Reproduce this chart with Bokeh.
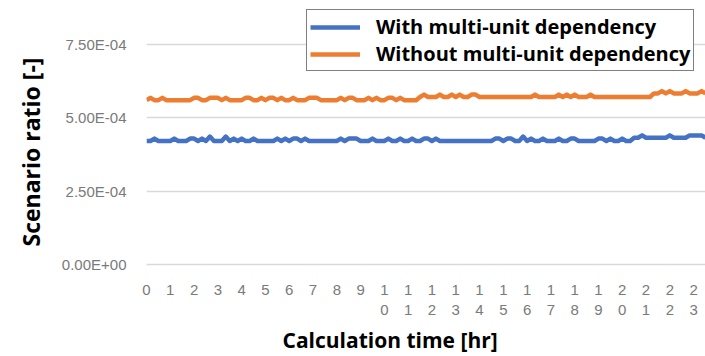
from bokeh.plotting import figure
from bokeh.models import (FixedTicker, CustomJSTickFormatter, Legend, LegendItem,
                          Title, Range1d)
from bokeh.embed import file_html
from bokeh.resources import INLINE

# ---------------- data ----------------
hour_ticks = [0, 1, 2, 3, 4, 5, 6, 7, 8, 9, 10, 11, 12, 13, 14, 15, 16, 17, 18, 19, 20, 21, 22, 23]
hour_labels = ["0", "1", "2", "3", "4", "5", "6", "7", "8", "9",
               "1\n0", "1\n1", "1\n2", "1\n3", "1\n4", "1\n5", "1\n6", "1\n7",
               "1\n8", "1\n9", "2\n0", "2\n1", "2\n2", "2\n3"]
ratio_ticks = [0.0, 2.5e-4, 5.0e-4, 7.5e-4]

sample_step_hr = 1 / 6  # one value every 10 minutes

with_dep = [
    4.21e-4, 4.21e-4, 4.29e-4, 4.21e-4, 4.21e-4, 4.21e-4, 4.21e-4, 4.29e-4, 4.21e-4, 4.21e-4, 4.21e-4, 4.29e-4,
    4.29e-4, 4.21e-4, 4.29e-4, 4.21e-4, 4.36e-4, 4.21e-4, 4.21e-4, 4.21e-4, 4.36e-4, 4.21e-4, 4.29e-4, 4.21e-4,
    4.29e-4, 4.21e-4, 4.21e-4, 4.29e-4, 4.21e-4, 4.21e-4, 4.21e-4, 4.21e-4, 4.21e-4, 4.29e-4, 4.21e-4, 4.29e-4,
    4.21e-4, 4.29e-4, 4.29e-4, 4.21e-4, 4.29e-4, 4.21e-4, 4.21e-4, 4.21e-4, 4.21e-4, 4.21e-4, 4.21e-4, 4.21e-4,
    4.21e-4, 4.29e-4, 4.21e-4, 4.29e-4, 4.29e-4, 4.29e-4, 4.21e-4, 4.21e-4, 4.21e-4, 4.29e-4, 4.21e-4, 4.21e-4,
    4.21e-4, 4.29e-4, 4.21e-4, 4.21e-4, 4.29e-4, 4.21e-4, 4.21e-4, 4.29e-4, 4.21e-4, 4.21e-4, 4.29e-4, 4.29e-4,
    4.21e-4, 4.29e-4, 4.21e-4, 4.21e-4, 4.21e-4, 4.21e-4, 4.21e-4, 4.21e-4, 4.21e-4, 4.21e-4, 4.21e-4, 4.21e-4,
    4.21e-4, 4.21e-4, 4.21e-4, 4.21e-4, 4.29e-4, 4.29e-4, 4.21e-4, 4.29e-4, 4.29e-4, 4.21e-4, 4.21e-4, 4.36e-4,
    4.21e-4, 4.29e-4, 4.21e-4, 4.21e-4, 4.29e-4, 4.21e-4, 4.21e-4, 4.21e-4, 4.29e-4, 4.21e-4, 4.21e-4, 4.29e-4,
    4.29e-4, 4.21e-4, 4.21e-4, 4.21e-4, 4.21e-4, 4.21e-4, 4.29e-4, 4.29e-4, 4.21e-4, 4.29e-4, 4.21e-4, 4.21e-4,
    4.29e-4, 4.21e-4, 4.21e-4, 4.32e-4, 4.32e-4, 4.40e-4, 4.32e-4, 4.32e-4, 4.32e-4, 4.32e-4, 4.32e-4, 4.32e-4,
    4.40e-4, 4.32e-4, 4.32e-4, 4.32e-4, 4.32e-4, 4.40e-4, 4.40e-4, 4.40e-4, 4.40e-4, 4.32e-4,
]

without_dep = [
    5.60e-4, 5.68e-4, 5.60e-4, 5.60e-4, 5.68e-4, 5.60e-4, 5.60e-4, 5.60e-4, 5.60e-4, 5.60e-4, 5.60e-4, 5.60e-4,
    5.68e-4, 5.68e-4, 5.60e-4, 5.60e-4, 5.68e-4, 5.68e-4, 5.68e-4, 5.60e-4, 5.68e-4, 5.60e-4, 5.60e-4, 5.60e-4,
    5.60e-4, 5.68e-4, 5.68e-4, 5.60e-4, 5.60e-4, 5.68e-4, 5.60e-4, 5.68e-4, 5.68e-4, 5.60e-4, 5.68e-4, 5.60e-4,
    5.60e-4, 5.68e-4, 5.60e-4, 5.60e-4, 5.60e-4, 5.68e-4, 5.68e-4, 5.68e-4, 5.60e-4, 5.60e-4, 5.60e-4, 5.60e-4,
    5.60e-4, 5.68e-4, 5.60e-4, 5.68e-4, 5.68e-4, 5.60e-4, 5.60e-4, 5.60e-4, 5.68e-4, 5.60e-4, 5.68e-4, 5.60e-4,
    5.60e-4, 5.68e-4, 5.68e-4, 5.60e-4, 5.68e-4, 5.60e-4, 5.60e-4, 5.60e-4, 5.60e-4, 5.71e-4, 5.79e-4, 5.71e-4,
    5.71e-4, 5.71e-4, 5.79e-4, 5.71e-4, 5.71e-4, 5.79e-4, 5.71e-4, 5.79e-4, 5.71e-4, 5.71e-4, 5.79e-4, 5.79e-4,
    5.71e-4, 5.71e-4, 5.71e-4, 5.71e-4, 5.71e-4, 5.71e-4, 5.71e-4, 5.71e-4, 5.71e-4, 5.71e-4, 5.71e-4, 5.71e-4,
    5.71e-4, 5.71e-4, 5.79e-4, 5.71e-4, 5.71e-4, 5.71e-4, 5.71e-4, 5.71e-4, 5.79e-4, 5.71e-4, 5.79e-4, 5.71e-4,
    5.79e-4, 5.71e-4, 5.71e-4, 5.71e-4, 5.79e-4, 5.71e-4, 5.71e-4, 5.71e-4, 5.71e-4, 5.71e-4, 5.71e-4, 5.71e-4,
    5.71e-4, 5.71e-4, 5.71e-4, 5.71e-4, 5.71e-4, 5.71e-4, 5.71e-4, 5.71e-4, 5.83e-4, 5.83e-4, 5.91e-4, 5.83e-4,
    5.91e-4, 5.83e-4, 5.83e-4, 5.83e-4, 5.91e-4, 5.83e-4, 5.83e-4, 5.83e-4, 5.91e-4, 5.83e-4,
]

time_hr = [i * sample_step_hr for i in range(len(with_dep))]

# ---------------- figure ----------------
BLUE = "#4472C4"
ORANGE = "#ED7D31"
GRID = "#d9d9d9"
TICK_TXT = "#7a7a7a"

p = figure(width=705, height=356, output_backend="svg", toolbar_location=None,
           x_range=Range1d(0, 23.5), y_range=Range1d(0, 8.69e-4),
           min_border_left=146, min_border_right=0, min_border_top=9,
           min_border_bottom=91, background_fill_color="white",
           border_fill_color="white")
p.outline_line_color = None

r_with = p.line(time_hr, with_dep, line_color=BLUE, line_width=4.5, line_join="round")
r_without = p.line(time_hr, without_dep, line_color=ORANGE, line_width=4.5, line_join="round")

# x axis
p.xaxis.ticker = FixedTicker(ticks=hour_ticks)
p.xaxis.major_label_overrides = dict(zip(hour_ticks, hour_labels))
p.xaxis.axis_line_color = GRID
p.xaxis.axis_line_width = 1.5
p.xaxis.major_tick_line_color = None
p.xaxis.minor_tick_line_color = None
p.xaxis.major_label_standoff = 10
p.xaxis.major_label_text_font = "Liberation Sans"
p.xaxis.major_label_text_font_size = "15px"
p.xaxis.major_label_text_color = TICK_TXT
p.xgrid.visible = False

# y axis
p.yaxis.ticker = FixedTicker(ticks=ratio_ticks)
p.yaxis.formatter = CustomJSTickFormatter(code="""
    const s = tick.toExponential(2).toUpperCase();
    const parts = s.split('E');
    const sign = parts[1][0];
    const d = parts[1].slice(1).padStart(2, '0');
    return parts[0] + 'E' + sign + d;
""")
p.yaxis.axis_line_color = None
p.yaxis.major_tick_line_color = None
p.yaxis.minor_tick_line_color = None
p.yaxis.major_label_standoff = 14
p.yaxis.major_label_text_font = "Liberation Sans"
p.yaxis.major_label_text_font_size = "15px"
p.yaxis.major_label_text_color = TICK_TXT
p.ygrid.ticker = FixedTicker(ticks=ratio_ticks)
p.ygrid.grid_line_color = GRID
p.ygrid.grid_line_width = 1.5

# axis titles
ytitle = Title(text="Scenario ratio [-]", align="left", offset=18, standoff=24,
               text_font="Open Sans", text_font_size="23px", text_font_style="bold",
               text_color="black")
xtitle = Title(text="Calculation time [hr]", align="left", offset=136, standoff=6,
               text_font="Open Sans", text_font_size="21px", text_font_style="bold",
               text_color="black")
p.add_layout(ytitle, "left")
p.add_layout(xtitle, "below")

# legend
legend = Legend(items=[LegendItem(label="With multi-unit dependency", renderers=[r_with]),
                       LegendItem(label="Without multi-unit dependency", renderers=[r_without])],
                location=(160, 193), orientation="vertical")
legend.border_line_color = "black"
legend.border_line_width = 1
legend.background_fill_color = "white"
legend.background_fill_alpha = 1
legend.padding = 3
legend.spacing = 0
legend.margin = 0
legend.glyph_width = 50
legend.glyph_height = 24
legend.label_height = 24
legend.label_standoff = 16
legend.label_text_font = "Open Sans"
legend.label_text_font_size = "20px"
legend.label_text_font_style = "bold"
legend.label_text_color = "black"
legend.label_text_baseline = "middle"
p.add_layout(legend)

open("out.html", "w").write(file_html(p, INLINE))
